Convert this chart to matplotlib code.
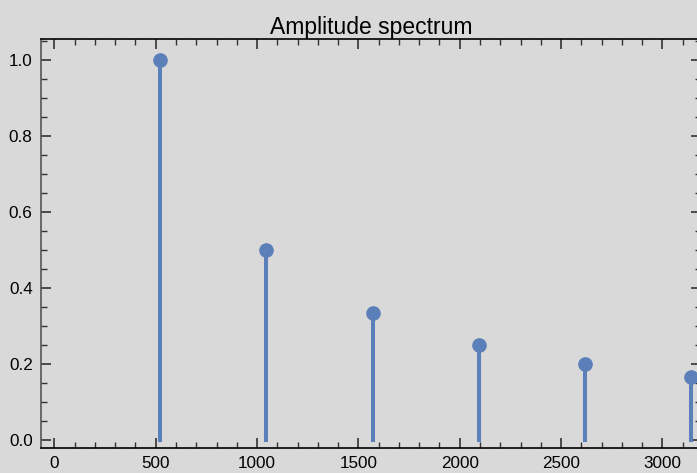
import numpy as np
import matplotlib
matplotlib.use('Agg')
from matplotlib import pyplot as plt
from matplotlib.ticker import MultipleLocator

# harmonicos de C5 y sus amplitudes
freqs = [523.25, 1046.5, 1569.75, 2093.0, 2616.25, 3139.5]
amps = [1.0, 0.5, 0.3333, 0.25, 0.2, 0.1667]

plt.rcParams['font.family'] = ['Liberation Sans', 'DejaVu Sans']

fig = plt.figure(figsize=(6.97, 4.73), dpi=100, facecolor='#d9d9d9')
ax = fig.add_axes([0.0588, 0.0529, 0.9469, 0.8636], facecolor='#d9d9d9')

col = '#5b7fb8'
ml, sl, bl = ax.stem(freqs, amps, basefmt=' ')
plt.setp(sl, color=col, linewidth=2.9)
sl.set_capstyle('projecting')
plt.setp(ml, color=col, markersize=9.5)

ax.set_xlim(-66, 3190)
ax.set_ylim(-0.021, 1.054)
ax.xaxis.set_major_locator(MultipleLocator(500))
ax.xaxis.set_minor_locator(MultipleLocator(100))
ax.yaxis.set_major_locator(MultipleLocator(0.2))
ax.yaxis.set_minor_locator(MultipleLocator(0.05))
ax.tick_params(which='both', direction='in', top=True, right=True,
               labelsize=12.3, color='#333333', pad=6)
ax.tick_params(which='major', length=7, width=1.2)
ax.tick_params(which='minor', length=4, width=1.0)
for s in ax.spines.values():
    s.set_linewidth(1.2)
ax.spines['left'].set_color('#555555')

ax.set_title('Amplitude spectrum', fontsize=16.5, pad=3)

plt.savefig('out.png', dpi=100, facecolor='#d9d9d9')
